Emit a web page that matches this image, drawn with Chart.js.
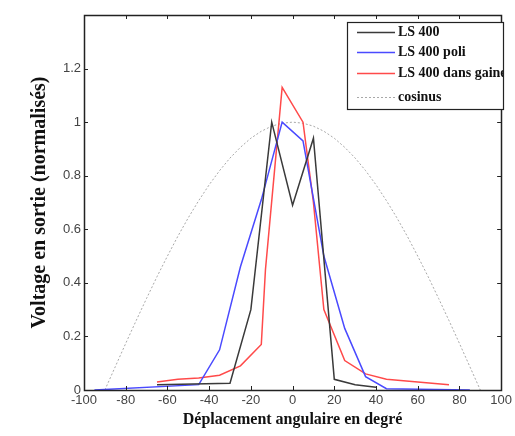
<!DOCTYPE html>
<html>
<head>
<meta charset="utf-8">
<script src="https://cdn.jsdelivr.net/npm/chart.js@4/dist/chart.umd.min.js"></script>
<style>
  html, body { margin: 0; padding: 0; background: #fff; }
  #wrap { width: 515px; height: 436px; }
</style>
</head>
<body>
<div id="wrap"><canvas id="chart" width="515" height="436"></canvas></div>
<script>
// Données
const xTicks = [-100, -80, -60, -40, -20, 0, 20, 40, 60, 80, 100];
const yTicks = [0, 0.2, 0.4, 0.6, 0.8, 1, 1.2];

const ls400X = [-65, -30, -20, -10, 0, 10, 20, 30, 40];
const ls400Y = [0.02, 0.025, 0.3, 1.0, 0.69, 0.94, 0.04, 0.02, 0.01];

const poliX = [-95, -45, -35, -25, -15, -5, 5, 15, 25, 35, 45, 85];
const poliY = [0, 0.02, 0.15, 0.46, 0.71, 1.0, 0.93, 0.5, 0.23, 0.05, 0.005, 0];

const gaineX = [-65, -55, -45, -35, -25, -15, -13, -5, 5, 10, 15, 25, 35, 45, 60, 75];
const gaineY = [0.03, 0.04, 0.045, 0.055, 0.09, 0.17, 0.45, 1.13, 1.0, 0.7, 0.3, 0.11, 0.06, 0.04, 0.03, 0.02];

const cosX = [-90, -85, -80, -75, -70, -65, -60, -55, -50, -45, -40, -35, -30, -25, -20, -15, -10, -5, 0,
              5, 10, 15, 20, 25, 30, 35, 40, 45, 50, 55, 60, 65, 70, 75, 80, 85, 90];
const cosY = [0, 0.087, 0.174, 0.259, 0.342, 0.423, 0.5, 0.574, 0.643, 0.707, 0.766, 0.819, 0.866, 0.906, 0.94, 0.966, 0.985, 0.996, 1,
              0.996, 0.985, 0.966, 0.94, 0.906, 0.866, 0.819, 0.766, 0.707, 0.643, 0.574, 0.5, 0.423, 0.342, 0.259, 0.174, 0.087, 0];

const labels = ['LS 400', 'LS 400 poli', 'LS 400 dans gaine', 'cosinus'];
const colors = ['#3a3a3a', '#4a4aff', '#ff4a4a', '#a8a8a8'];

function pts(xs, ys) {
  return xs.map((x, i) => ({ x: x, y: ys[i] }));
}

const serif = '"Liberation Serif", "Times New Roman", serif';
const sans = '"Liberation Sans", Arial, sans-serif';

// cadre + graduations intérieures (style matlab)
const framePlugin = {
  id: 'frame',
  afterDraw(chart) {
    const { ctx, chartArea: a, scales } = chart;
    ctx.save();
    ctx.strokeStyle = '#222';
    ctx.lineWidth = 1;
    ctx.beginPath();
    xTicks.forEach(v => {
      const px = Math.round(scales.x.getPixelForValue(v)) + 0.5;
      ctx.moveTo(px, a.bottom); ctx.lineTo(px, a.bottom - 4);
      ctx.moveTo(px, a.top); ctx.lineTo(px, a.top + 4);
    });
    yTicks.forEach(v => {
      const py = Math.round(scales.y.getPixelForValue(v)) + 0.5;
      ctx.moveTo(a.left, py); ctx.lineTo(a.left + 4, py);
      ctx.moveTo(a.right, py); ctx.lineTo(a.right - 4, py);
    });
    ctx.stroke();
    ctx.lineWidth = 1.5;
    ctx.strokeRect(Math.round(a.left) + 0.5, Math.round(a.top) + 0.5,
      Math.round(a.right - a.left), Math.round(a.bottom - a.top));

    // légende dans le coin haut droit
    const bx = 347, by = 22, bw = 156, bh = 87;
    ctx.fillStyle = '#fff';
    ctx.fillRect(bx, by, bw, bh);
    ctx.lineWidth = 1.2;
    ctx.strokeStyle = '#222';
    ctx.strokeRect(bx + 0.5, by + 0.5, bw, bh);
    ctx.beginPath();
    ctx.rect(bx, by, bw, bh);
    ctx.clip();
    const rows = [32, 52, 73, 97];
    ctx.font = 'bold 14px ' + serif;
    ctx.textBaseline = 'middle';
    labels.forEach((t, i) => {
      const y = rows[i] + 0.5;
      ctx.strokeStyle = colors[i];
      ctx.lineWidth = i === 3 ? 1 : 1.5;
      ctx.setLineDash(i === 3 ? [2, 2] : []);
      ctx.beginPath();
      ctx.moveTo(357, y); ctx.lineTo(395, y);
      ctx.stroke();
      ctx.setLineDash([]);
      ctx.fillStyle = '#111';
      ctx.fillText(t, 398, rows[i]);
    });
    ctx.restore();
  }
};

const ctx = document.getElementById('chart').getContext('2d');
new Chart(ctx, {
  type: 'line',
  data: {
    datasets: [
      { label: labels[0], data: pts(ls400X, ls400Y), borderColor: colors[0], borderWidth: 1.5 },
      { label: labels[1], data: pts(poliX, poliY), borderColor: colors[1], borderWidth: 1.5 },
      { label: labels[2], data: pts(gaineX, gaineY), borderColor: colors[2], borderWidth: 1.5 },
      { label: labels[3], data: pts(cosX, cosY), borderColor: colors[3], borderWidth: 1, borderDash: [2, 2] }
    ]
  },
  options: {
    responsive: false,
    animation: false,
    layout: { padding: { left: 0, top: 15, right: 11, bottom: 0 } },
    elements: { point: { radius: 0 }, line: { tension: 0 } },
    plugins: { legend: { display: false }, tooltip: { enabled: false } },
    scales: {
      x: {
        type: 'linear',
        min: -100, max: 100,
        afterBuildTicks: s => { s.ticks = xTicks.map(v => ({ value: v })); },
        afterFit: s => { s.height = 46; },
        grid: { display: false, drawTicks: false, tickLength: 0 },
        border: { display: false },
        ticks: {
          padding: 3, color: '#444', maxRotation: 0, autoSkip: false,
          font: { family: sans, size: 13 },
          callback: v => String(v)
        },
        title: {
          display: true, text: 'Déplacement angulaire en degré', color: '#111',
          font: { family: serif, size: 16, weight: 'bold' },
          padding: { top: 0, bottom: 7 }
        }
      },
      y: {
        type: 'linear',
        min: 0, max: 1.4,
        afterBuildTicks: s => { s.ticks = yTicks.map(v => ({ value: v })); },
        afterFit: s => { s.width = 84; },
        grid: { display: false, drawTicks: false, tickLength: 0 },
        border: { display: false },
        ticks: {
          padding: 3, color: '#444',
          font: { family: sans, size: 13 },
          callback: v => String(Math.round(v * 10) / 10)
        },
        title: {
          display: true, text: 'Voltage en sortie (normalisés)', color: '#111',
          font: { family: serif, size: 20, weight: 'bold' },
          padding: { top: 28, bottom: 0 }
        }
      }
    }
  },
  plugins: [framePlugin]
});
</script>
</body>
</html>
